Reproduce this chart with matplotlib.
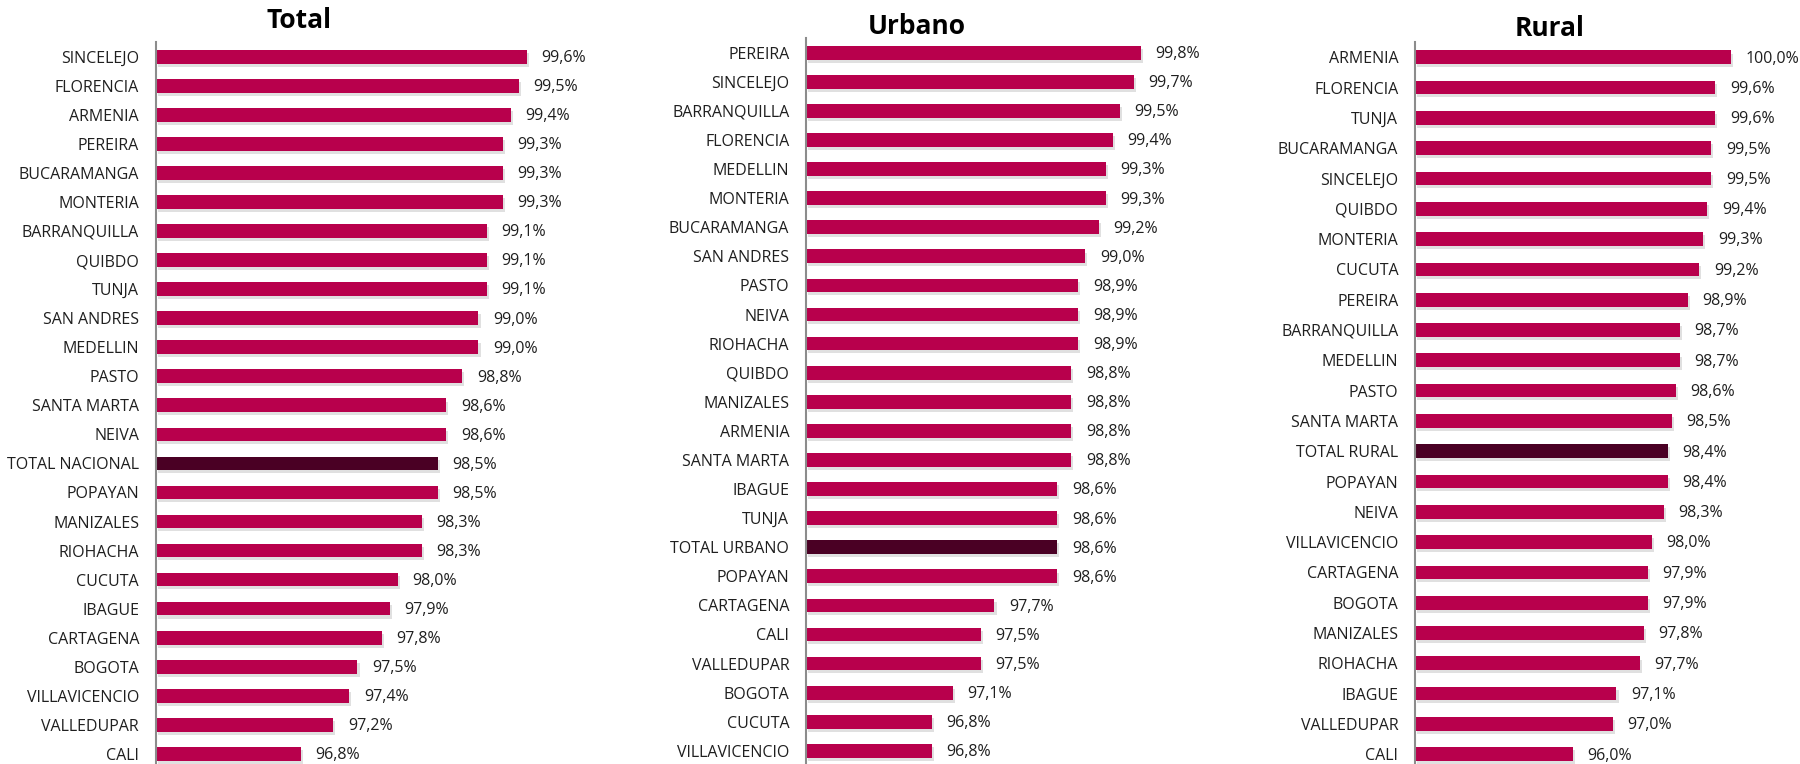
import matplotlib
matplotlib.use("Agg")
import matplotlib.pyplot as plt
import matplotlib.patheffects as pe

plt.rcParams['font.family'] = ['Open Sans', 'DejaVu Sans']

# Datos
total_cats = ['SINCELEJO', 'FLORENCIA', 'ARMENIA', 'PEREIRA', 'BUCARAMANGA', 'MONTERIA',
              'BARRANQUILLA', 'QUIBDO', 'TUNJA', 'SAN ANDRES', 'MEDELLIN', 'PASTO',
              'SANTA MARTA', 'NEIVA', 'TOTAL NACIONAL', 'POPAYAN', 'MANIZALES', 'RIOHACHA',
              'CUCUTA', 'IBAGUE', 'CARTAGENA', 'BOGOTA', 'VILLAVICENCIO', 'VALLEDUPAR', 'CALI']
total_vals = [99.6, 99.5, 99.4, 99.3, 99.3, 99.3, 99.1, 99.1, 99.1, 99.0, 99.0, 98.8,
              98.6, 98.6, 98.5, 98.5, 98.3, 98.3, 98.0, 97.9, 97.8, 97.5, 97.4, 97.2, 96.8]

urbano_cats = ['PEREIRA', 'SINCELEJO', 'BARRANQUILLA', 'FLORENCIA', 'MEDELLIN', 'MONTERIA',
               'BUCARAMANGA', 'SAN ANDRES', 'PASTO', 'NEIVA', 'RIOHACHA', 'QUIBDO',
               'MANIZALES', 'ARMENIA', 'SANTA MARTA', 'IBAGUE', 'TUNJA', 'TOTAL URBANO',
               'POPAYAN', 'CARTAGENA', 'CALI', 'VALLEDUPAR', 'BOGOTA', 'CUCUTA', 'VILLAVICENCIO']
urbano_vals = [99.8, 99.7, 99.5, 99.4, 99.3, 99.3, 99.2, 99.0, 98.9, 98.9, 98.9, 98.8,
               98.8, 98.8, 98.8, 98.6, 98.6, 98.6, 98.6, 97.7, 97.5, 97.5, 97.1, 96.8, 96.8]

rural_cats = ['ARMENIA', 'FLORENCIA', 'TUNJA', 'BUCARAMANGA', 'SINCELEJO', 'QUIBDO',
              'MONTERIA', 'CUCUTA', 'PEREIRA', 'BARRANQUILLA', 'MEDELLIN', 'PASTO',
              'SANTA MARTA', 'TOTAL RURAL', 'POPAYAN', 'NEIVA', 'VILLAVICENCIO', 'CARTAGENA',
              'BOGOTA', 'MANIZALES', 'RIOHACHA', 'IBAGUE', 'VALLEDUPAR', 'CALI']
rural_vals = [100.0, 99.6, 99.6, 99.5, 99.5, 99.4, 99.3, 99.2, 98.9, 98.7, 98.7, 98.6,
              98.5, 98.4, 98.4, 98.3, 98.0, 97.9, 97.9, 97.8, 97.7, 97.1, 97.0, 96.0]

COLOR = '#B8004C'
COLOR_TOTAL = '#4A0024'
TEXT = '#1F1F1F'

W, H = 1800, 764
fig = plt.figure(figsize=(W / 100, H / 100), dpi=100)


def panel(cats, vals, titulo, left, top, y0, paso, x0, xmax, escala, alto, tx, ty):
    n = len(cats)
    ancho = (xmax - x0) * escala
    ax = fig.add_axes([left / W, 0, ancho / W, (H - top) / H])
    colores = [COLOR_TOTAL if c.startswith('TOTAL') else COLOR for c in cats]
    bars = ax.barh(range(n), [v - x0 for v in vals], left=x0, height=alto,
                   color=colores, linewidth=0)
    # sombra suave debajo de cada barra
    for b in bars:
        b.set_path_effects([pe.SimplePatchShadow(offset=(1.5, -2.2), shadow_rgbFace='#999999', alpha=0.3),
                            pe.Normal()])
    for i, v in enumerate(vals):
        ax.annotate(f"{v:.1f}%".replace('.', ','), xy=(v, i), xytext=(10.5, -1),
                    textcoords='offset points', va='center', ha='left',
                    fontsize=11.5, color=TEXT, annotation_clip=False)
    ax.set_xlim(x0, xmax)
    ax.set_ylim((H - y0) / paso, -(y0 - top) / paso)
    ax.set_yticks(range(n))
    ax.set_yticklabels(cats, fontsize=11.5, color=TEXT)
    ax.tick_params(axis='y', length=0, pad=12)
    ax.xaxis.set_visible(False)
    for s in ['top', 'right', 'bottom']:
        ax.spines[s].set_visible(False)
    ax.spines['left'].set_color('#8C8C8C')
    ax.spines['left'].set_linewidth(1.5)
    fig.text(tx / W, 1 - ty / H, titulo, ha='center', va='center',
             fontsize=19, fontweight='bold', color='black')


panel(total_cats, total_vals, 'Total', 155.7, 42.3, 56.7, 29.05, 95, 100, 80.7, 0.47, 299, 21)
panel(urbano_cats, urbano_vals, 'Urbano', 806, 38, 52.7, 29.09, 95, 100, 69.8, 0.47, 917, 26.7)
panel(rural_cats, rural_vals, 'Rural', 1415, 42.3, 57.3, 30.3, 92, 100.5, 39.5, 0.45, 1550, 28)

fig.savefig('out.png', dpi=100)
